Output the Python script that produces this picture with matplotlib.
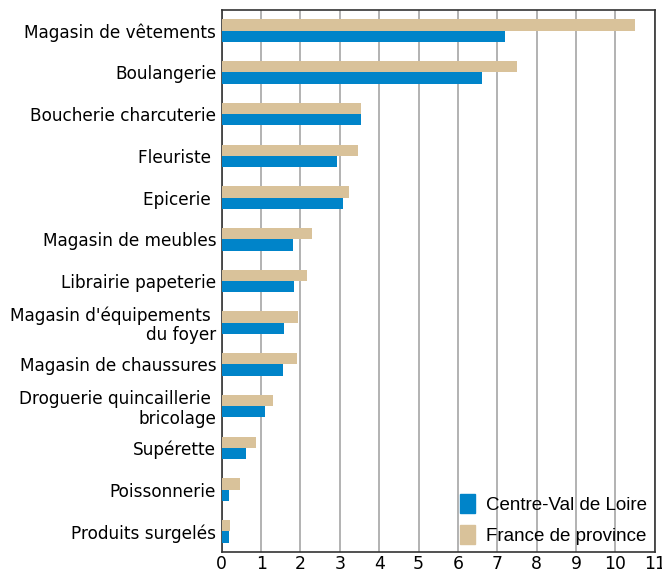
import numpy as np
import matplotlib.pyplot as plt
from matplotlib.patches import Patch

categories = ["Magasin de vêtements", "Boulangerie", "Boucherie charcuterie",
              "Fleuriste ", "Epicerie ", "Magasin de meubles", "Librairie papeterie",
              "Magasin d'équipements \ndu foyer", "Magasin de chaussures",
              "Droguerie quincaillerie \nbricolage", "Supérette", "Poissonnerie",
              "Produits surgelés"]
centre = [7.2, 6.6, 3.55, 2.94, 3.07, 1.80, 1.83, 1.57, 1.55, 1.09, 0.61, 0.18, 0.18]
france = [10.5, 7.49, 3.53, 3.45, 3.22, 2.28, 2.16, 1.93, 1.90, 1.29, 0.86, 0.46, 0.20]

BLUE = '#0084c9'
TAN = '#d9c29a'

fig = plt.figure(figsize=(6.62, 5.74), dpi=100)
ax = fig.add_axes([0.335, 0.038, 0.654, 0.945])

y = np.arange(len(categories))
h = 0.27
ax.barh(y - h / 2, france, height=h, color=TAN, zorder=3)
ax.barh(y + h / 2, centre, height=h, color=BLUE, zorder=3)

ax.set_ylim(len(categories) - 0.5, -0.5)
ax.set_xlim(0, 11)
ax.set_xticks(range(12))
ax.set_yticks(y)
ax.set_yticklabels(categories, fontsize=12.2, ha='right', multialignment='right',
                   linespacing=1.1)
ax.tick_params(axis='y', length=0, pad=4)
ax.tick_params(axis='x', length=0, labelsize=12.4, pad=2)
ax.grid(axis='x', color='#a6a6a6', linewidth=1.2, zorder=0)
for s in ax.spines.values():
    s.set_color('#333333')
    s.set_linewidth(1.2)

handles = [Patch(color=BLUE, label='Centre-Val de Loire'),
           Patch(color=TAN, label='France de province')]
ax.legend(handles=handles, loc='lower right', frameon=False,
          prop={'family': 'Liberation Sans', 'size': 13.5},
          handlelength=0.8, handleheight=1.2, handletextpad=0.6,
          labelspacing=0.6, borderaxespad=0.0)

fig.savefig('out.png', dpi=100)
